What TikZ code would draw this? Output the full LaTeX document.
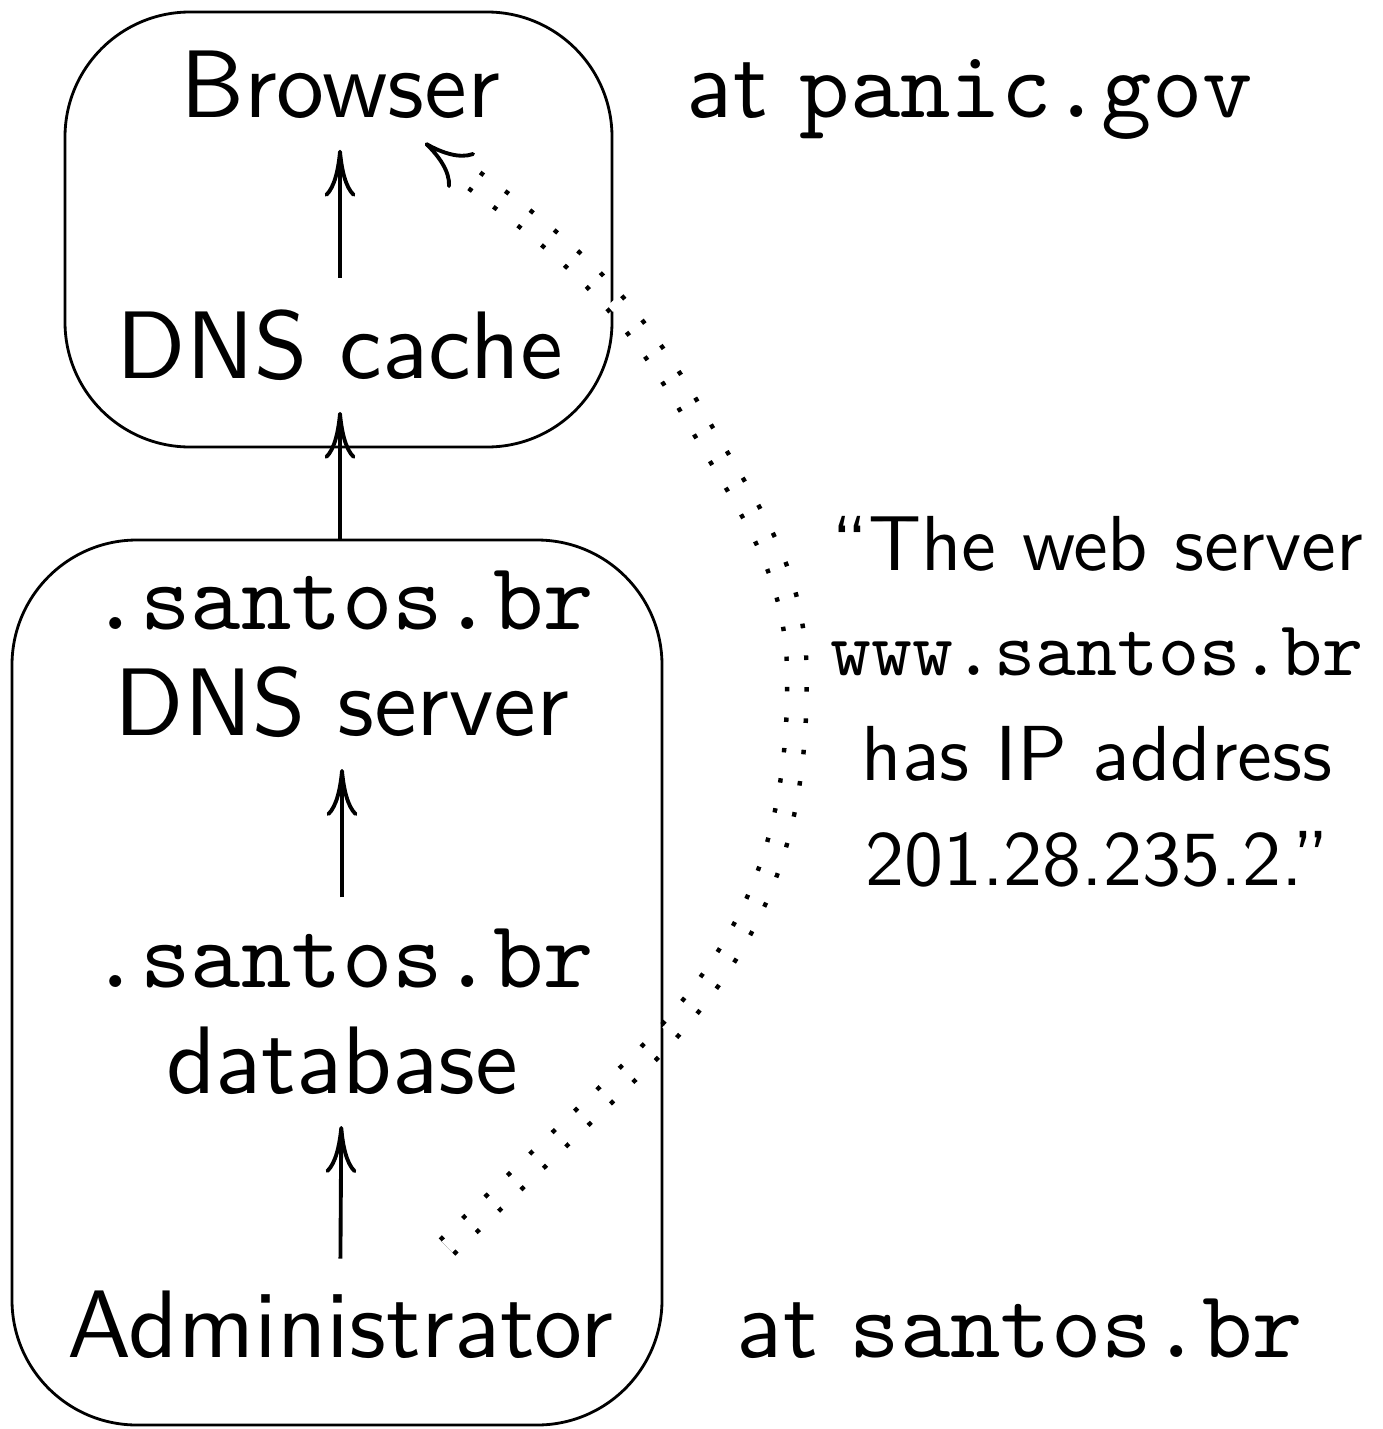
\documentclass[tikz,border=0pt]{standalone}
\usepackage{fontspec}
\setsansfont{lmsans10-regular.otf}
\setmonofont{lmmono10-regular.otf}
\usetikzlibrary{arrows.meta, positioning}
\newcommand{\dnsfont}{\fontsize{27.3}{30}\selectfont\sffamily}
\newcommand{\claimfont}{\fontsize{22.2}{29.9}\selectfont\sffamily}
\tikzset{
    dnsBox/.style={draw, rectangle, rounded corners=1.25cm, line width=0.8pt, inner sep=0pt},
    dnsLabel/.style={font=\dnsfont, inner sep=0.31cm, align=center},
    dnsEdge/.style={-{Computer Modern Rightarrow[length=4.7mm, width=3.1mm]}, line width=1.1pt},
    dnsTip/.style={-{Computer Modern Rightarrow[length=4.7mm, width=4.4mm]}, line width=1.1pt},
    dnsRumour/.style={line width=0.24cm, dash pattern=on 0.045cm off 0.265cm,
        postaction={draw=white, line width=0.15cm, dash pattern=on 0.085cm off 0.225cm, dash phase=0.02cm}},
}
\newcommand{\dnsHop}[2]{
    \draw[dnsEdge] (#1) -- (#2);
}

\begin{document}
\begin{tikzpicture}
    \useasboundingbox (0,0) rectangle (13.82,-14.29);

    % the two machines
    \node[dnsBox, minimum width=5.47cm, minimum height=4.35cm] (panicBox) at (3.385,-2.295) {};
    \node[dnsBox, minimum width=6.50cm, minimum height=8.85cm] (santosBox) at (3.37,-9.825) {};

    \node[dnsLabel, anchor=base] (browser) at (3.40,-1.17) {Browser};
    \node[dnsLabel, anchor=base] (cache) at (3.40,-3.78) {DNS cache};
    \node[dnsLabel, anchor=south] (server) at (3.42,-7.69) {{\ttfamily .santos.br}\\DNS server};
    \node[dnsLabel, anchor=south] (database) at (3.42,-11.26) {{\ttfamily .santos.br}\\database};
    \node[dnsLabel, anchor=base] (admin) at (3.40,-13.57) {Administrator};

    \node[dnsLabel, anchor=base] (panicAt) at (9.70,-1.17) {at {\ttfamily panic.gov}};
    \node[dnsLabel, anchor=base] (santosAt) at (10.20,-13.57) {at {\ttfamily santos.br}};
    \node[dnsLabel, font=\claimfont, anchor=south] (claim) at (10.97,-9.19) {“The web server\\{\ttfamily www.santos.br}\\has IP address\\201.28.235.2.”};

    \dnsHop{cache}{browser}
    \dnsHop{santosBox.north -| cache.south}{cache}
    \dnsHop{database}{server}
    \dnsHop{admin}{database}

    % forged record travels to the browser
    \coordinate (rumourStart) at (4.47,-12.47);
    \coordinate (rumourEnd) at (4.266,-1.442);
    \coordinate (browserTip) at (4.25,-1.43);
    \draw[dnsRumour] (rumourStart) -- (6.40,-10.62) to[out=45, in=-90] (7.97,-6.80)
        to[out=90, in=-60] (6.97,-4.20) to[out=120, in=-36] (4.71,-1.78);
    \draw[dnsTip] (rumourEnd) -- (browserTip);

\end{tikzpicture}
\end{document}
